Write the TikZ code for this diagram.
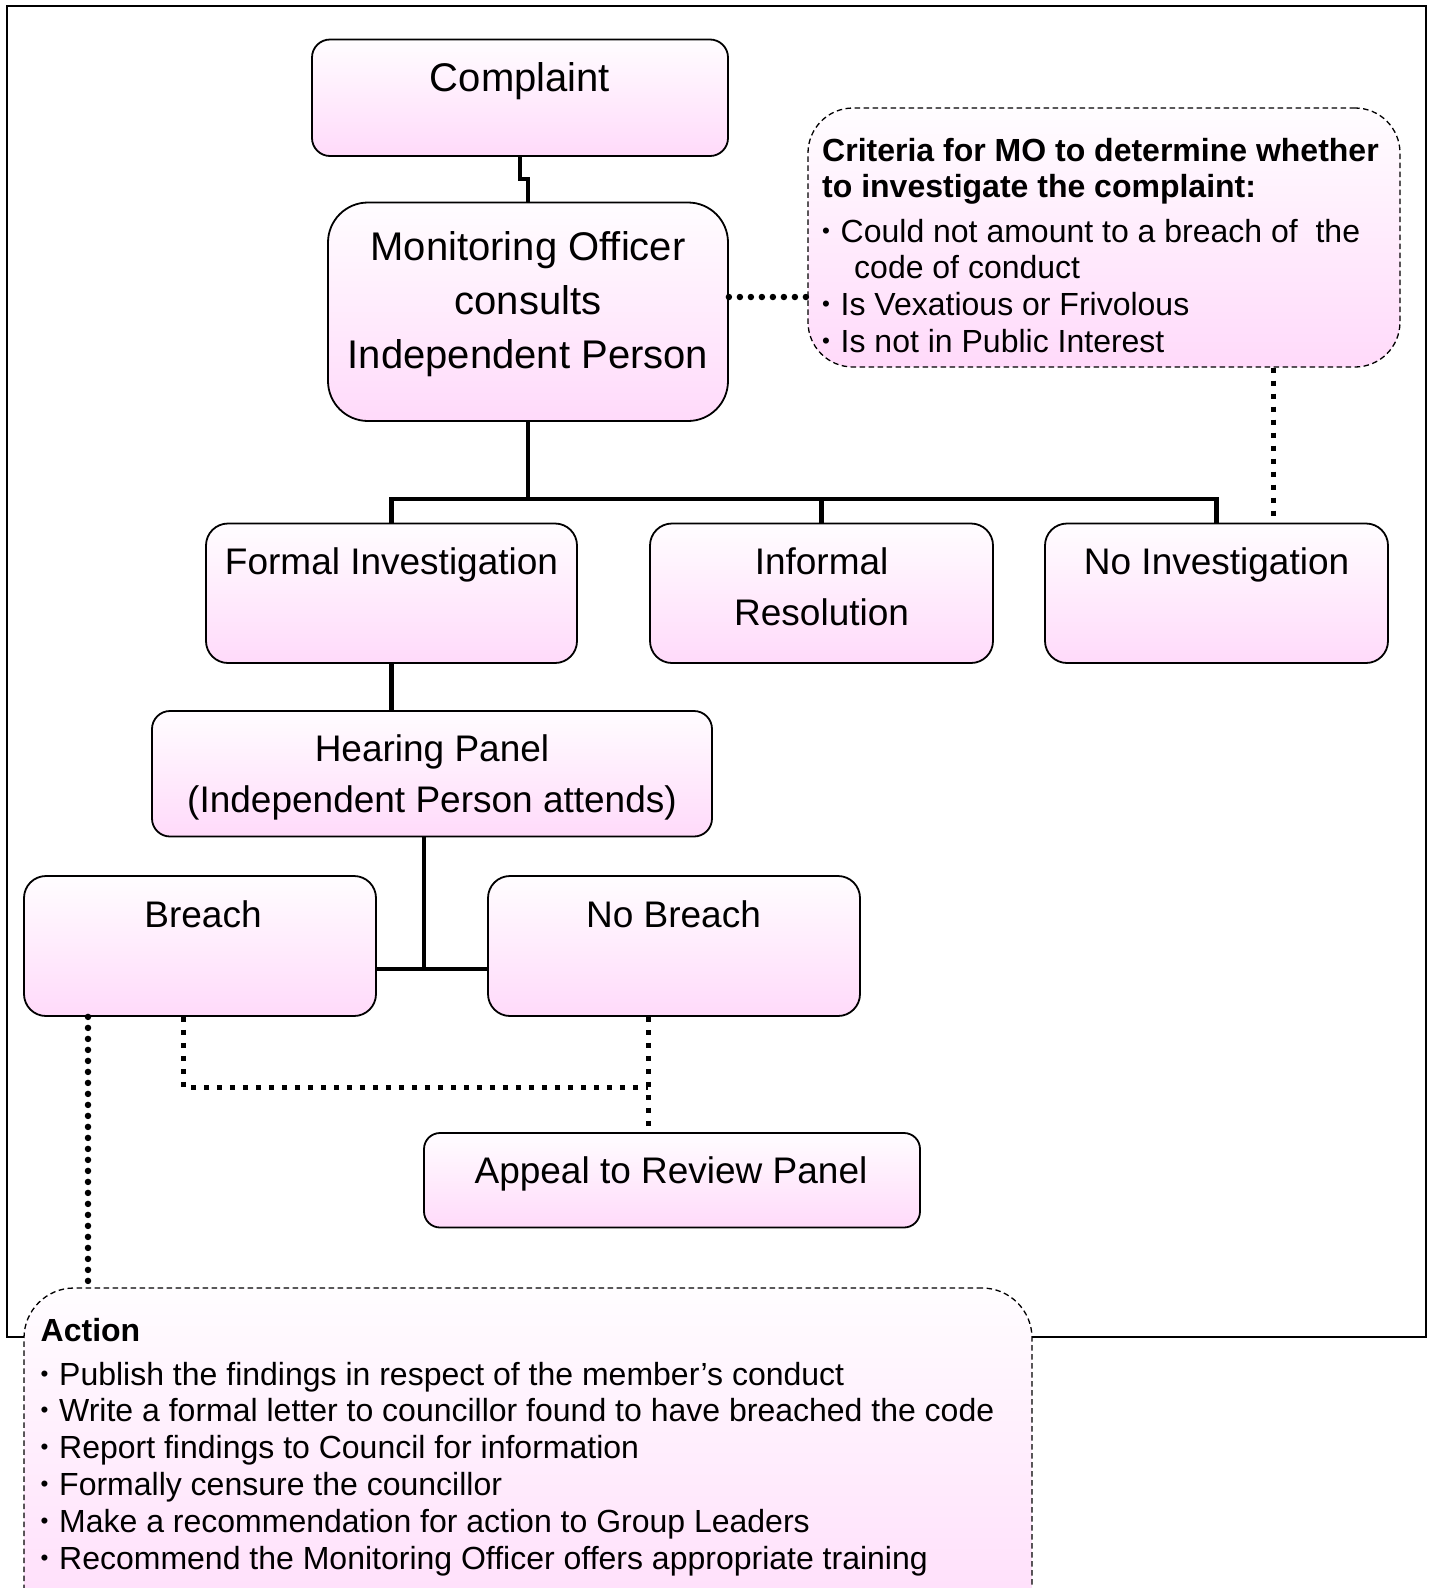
\documentclass[tikz,border=0pt]{standalone}
\usepackage{fontspec}
\setmainfont{Liberation Sans}
\usetikzlibrary{fit}
\definecolor{pinkbot}{RGB}{255,218,250}
\definecolor{pinktop}{RGB}{255,253,255}
\newcommand\mybul{\makebox[18.5pt][l]{\raisebox{0.12em}{\scalebox{0.7}{•}}}}
\begin{document}
\begin{tikzpicture}[x=1pt,y=-1pt,
  box/.style={draw=black, line width=1.8pt, top color=pinktop, bottom color=pinkbot, inner sep=0pt, rounded corners=#1},
  box/.default=20pt,
  dbox/.style={draw=black, line width=1.3pt, dash pattern=on 5.5pt off 3.5pt, top color=pinktop, bottom color=pinkbot, inner sep=0pt, rounded corners=#1},
  conn/.style={line width=4.5pt},
  sqdot/.style={line width=5pt, dash pattern=on 5pt off 8pt},
  rddot/.style={line width=6.5pt, line cap=round, dash pattern=on 0pt off 11pt},
  big/.style={font=\fontsize{40}{54}\selectfont, align=center, anchor=base, inner sep=0pt},
  mid/.style={font=\fontsize{37}{51}\selectfont, align=center, anchor=base, inner sep=0pt},
  small/.style={font=\fontsize{32}{36.8}\selectfont, align=left, anchor=base west, inner sep=0pt},
  smallbold/.style={font=\bfseries\fontsize{32}{36.8}\selectfont, align=left, anchor=base west, inner sep=0pt},
]
\useasboundingbox (0,0) rectangle (1432,1588);
\clip (0,0) rectangle (1432,1588);
\fill[white] (0,0) rectangle (1432,1588);
% outer frame
\draw[line width=2.5pt] (7,6) rectangle (1426,1337);

% boxes
\node[box=18pt, fit={(312,39.5) (728,156)}] (complaint) {};
\node[box=40pt, fit={(328,202.5) (728,421)}] (mo) {};
\node[dbox=45pt, fit={(808,108) (1400,367)}] (crit) {};
\node[box=22pt, fit={(206,523.5) (577,663)}] (formal) {};
\node[box=22pt, fit={(650,523.5) (993,663)}] (informal) {};
\node[box=22pt, fit={(1045,523.5) (1388,663)}] (noinv) {};
\node[box=18pt, fit={(152,711) (712,836.5)}] (hearing) {};
\node[box=22pt, fit={(24,876) (376,1016)}] (breach) {};
\node[box=22pt, fit={(488,876) (860,1016)}] (nobreach) {};
\node[box=16pt, fit={(424,1133) (920,1227.5)}] (appeal) {};
\node[dbox=50pt, fit={(24,1288) (1032,1660)}] (action) {};

% texts (base anchor = baseline of last line)
\node[big] (complaint-t) at (520,91) {Complaint};
\node[big] (mo-t) at (528,368) {Monitoring Officer\\consults\\Independent Person};
\node[mid] (formal-t) at (391.5,574) {Formal Investigation};
\node[mid] (informal-t) at (821.6,625) {Informal\\Resolution};
\node[mid] (noinv-t) at (1216.6,574) {No Investigation};
\node[mid] (hearing-t) at (432,812) {Hearing Panel\\(Independent Person attends)};
\node[mid] (breach-t) at (203,927) {Breach};
\node[mid] (nobreach-t) at (673.5,927) {No Breach};
\node[mid] (appeal-t) at (671,1183) {Appeal to Review Panel};
\node[smallbold] (crit-h) at (822,197.8) {Criteria for MO to determine whether\\to investigate the complaint:};
\node[small] (crit-b) at (822,352.5) {\mybul Could not amount to a breach of\ \ the\\\hspace*{32pt}code of conduct\\\mybul Is Vexatious or Frivolous\\\mybul Is not in Public Interest};
\node[smallbold] (act-h) at (40.5,1341.5) {Action};
\node[small] (act-b) at (40.5,1569) {\mybul Publish the findings in respect of the member’s conduct\\\mybul Write a formal letter to councillor found to have breached the code\\\mybul Report findings to Council for information\\\mybul Formally censure the councillor\\\mybul Make a recommendation for action to Group Leaders\\\mybul Recommend the Monitoring Officer offers appropriate training};

% connectors
\draw[conn] (complaint.south) -- ++(0,22) -| (mo.north);
\coordinate (bar) at (0,499);
\draw[conn] (mo.south) -- (mo.south |- bar);
\draw[conn] (formal.north) -- (formal.north |- bar) -- (noinv.north |- bar) -- (noinv.north);
\draw[conn] (informal.north) -- (informal.north |- bar);
\coordinate (mc) at (0,297);
\draw[rddot] (mo.east |- mc) -- (crit.west |- mc);
\coordinate (cx) at (1273,0);
\draw[sqdot] (crit.south -| cx) -- (noinv.north -| cx);
\draw[conn] (formal.south) -- (formal.south |- hearing.north);
\coordinate (hj) at (424,969);
\draw[conn] (hearing.south -| hj) -- (hj);
\draw[conn] (breach.east |- hj) -- (nobreach.west |- hj);
\coordinate (bd) at (183,1087);
\coordinate (nd) at (648,0);
\draw[sqdot] (breach.south -| bd) -- (bd) -- (bd -| nd);
\draw[sqdot] (nobreach.south -| nd) -- (appeal.north -| nd);
\coordinate (ad) at (88,0);
\draw[rddot] (breach.south -| ad) -- (action.north -| ad);
\end{tikzpicture}
\end{document}
